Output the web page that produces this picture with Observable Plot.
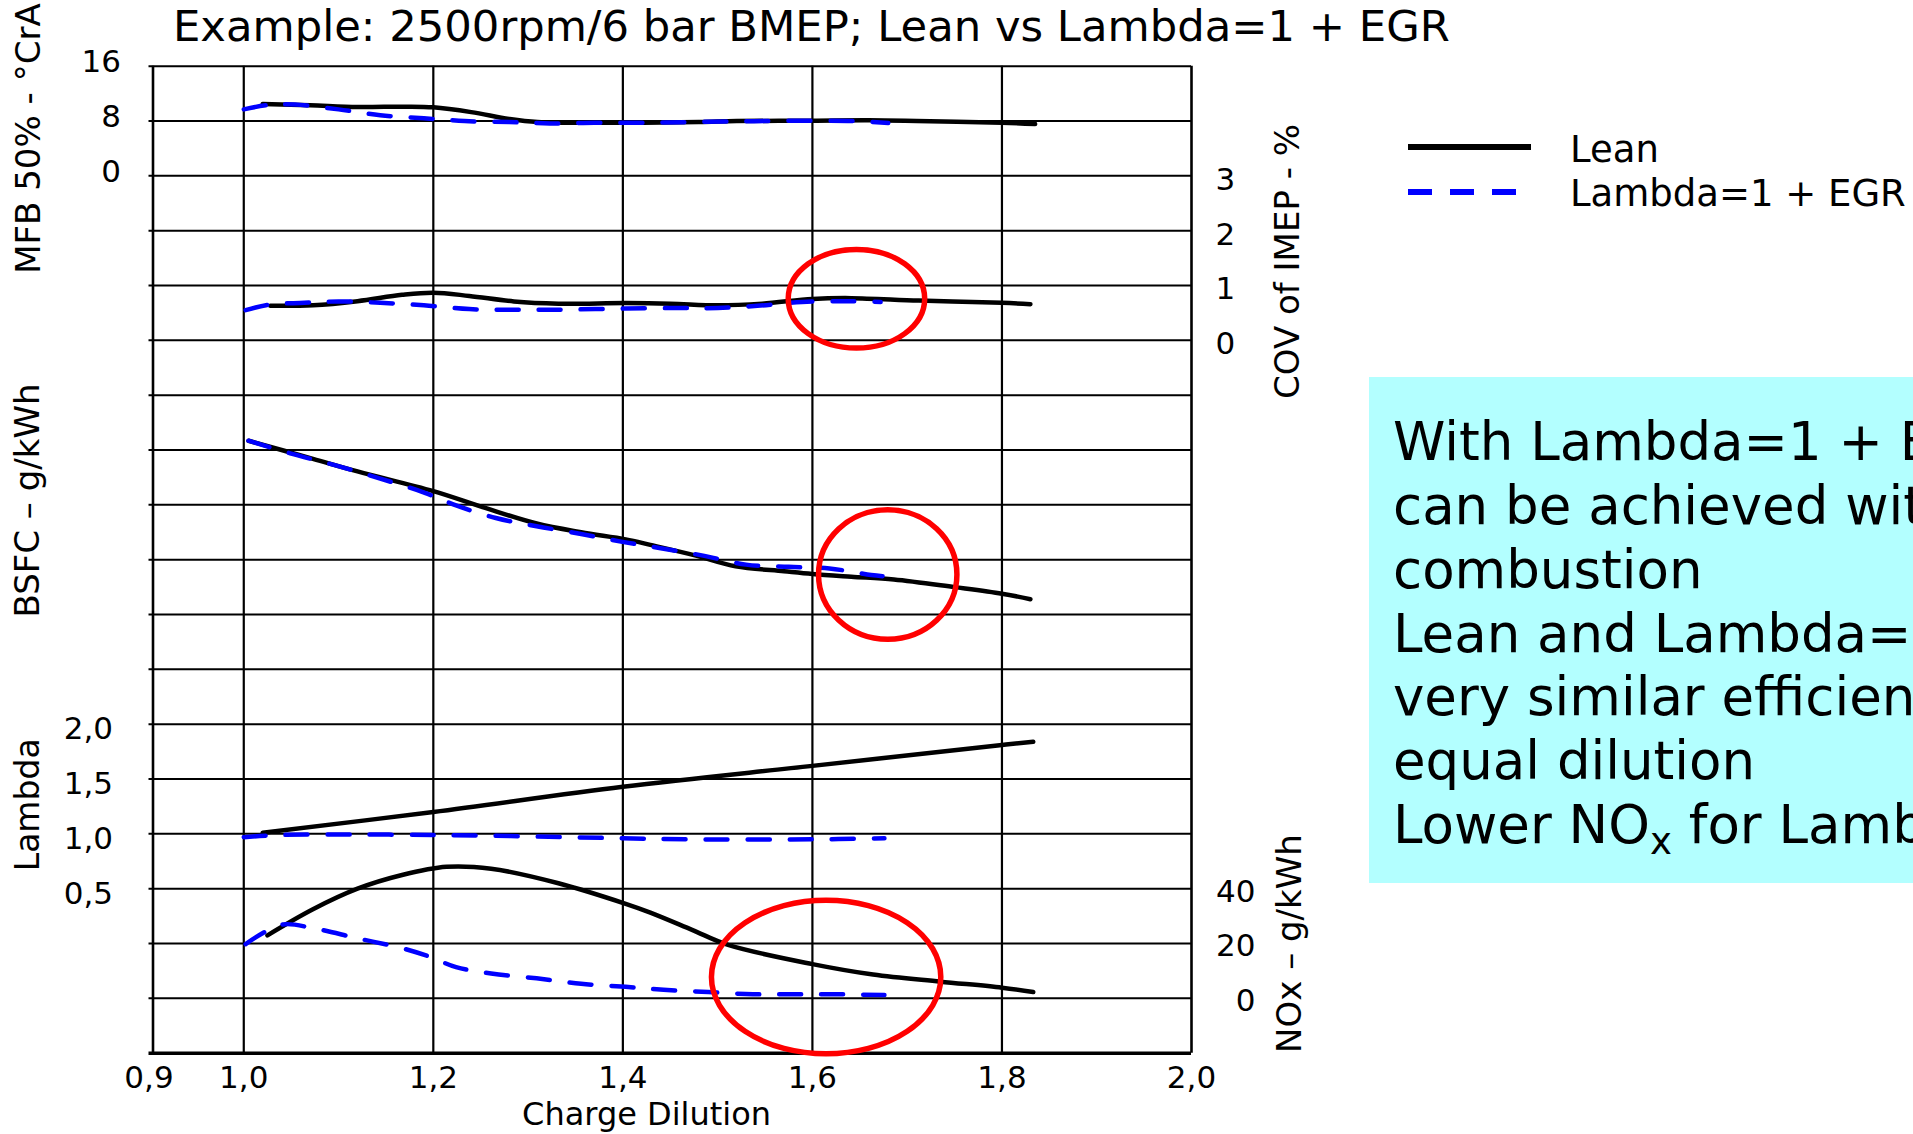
<!DOCTYPE html>
<html>
<head>
<meta charset="utf-8">
<script src="https://cdn.jsdelivr.net/npm/d3@7"></script>
<script src="https://cdn.jsdelivr.net/npm/@observablehq/plot@0.6"></script>
<style>
  html, body { margin: 0; padding: 0; background: #fff; overflow: hidden; }
  #page { position: relative; width: 1913px; height: 1134px; overflow: hidden;
          font-family: "DejaVu Sans", Verdana, sans-serif; color: #000; }
  #chart { position: absolute; left: 0; top: 0; }
  .title { position: absolute; left: 173px; top: 5px; font-size: 43.3px; line-height: 1; white-space: nowrap; }
  .leg-text { position: absolute; left: 1570px; font-size: 37px; line-height: 1; white-space: nowrap; }
  .leg-solid { position: absolute; left: 1408px; top: 144px; width: 123px; height: 6px; background: #000; }
  .leg-dash { position: absolute; left: 1408px; top: 189px; width: 110px; height: 6px;
              background: repeating-linear-gradient(to right, #0000ff 0 24px, transparent 24px 42px); }
  .note { position: absolute; left: 1369px; top: 377px; width: 600px; height: 506px; background: #b3ffff; }
  .note .lines { position: absolute; left: 24px; top: 33px; font-size: 53px; line-height: 63.85px; white-space: nowrap; }
  .note sub { font-size: 0.7em; vertical-align: -0.3em; line-height: 0; }
</style>
</head>
<body>
<div id="page">
  <div id="chart"></div>
  <div class="title">Example: 2500rpm/6 bar BMEP; Lean vs Lambda=1 + EGR</div>
  <div class="leg-solid"></div>
  <div class="leg-text" style="top:131px">Lean</div>
  <div class="leg-dash"></div>
  <div class="leg-text" style="top:175px">Lambda=1 + EGR</div>
  <div class="note"><div class="lines">
    <div>With Lambda=1 + EGR</div>
    <div>can be achieved with</div>
    <div>combustion</div>
    <div>Lean and Lambda=1 + EGR</div>
    <div>very similar efficiency</div>
    <div>equal dilution</div>
    <div>Lower NO<sub>x</sub> for Lambda=1 + EGR</div>
  </div></div>
</div>
<script>
// ---------------- data ----------------
const dilutionTicks = [0.9, 1.0, 1.2, 1.4, 1.6, 1.8, 2.0];
const dilutionGrid = [1.0, 1.2, 1.4, 1.6, 1.8];
const rowLines = [1, 2, 3, 4, 5, 6, 7, 8, 9, 10, 11, 12, 13, 14, 15, 16, 17, 18];

const mfbTicks = [0, 8, 16];
const covTicks = [0, 1, 2, 3];
const lambdaTicks = [0.5, 1.0, 1.5, 2.0];
const noxTicks = [0, 20, 40];

// MFB 50% (°CrA)
const mfbLean = [[1.02,10.5],[1.07,10.3],[1.12,10.05],[1.17,10.1],[1.20,10.0],[1.24,9.3],[1.28,8.3],[1.31,7.85],[1.40,7.75],[1.48,7.85],[1.52,8.0],[1.60,8.05],[1.66,8.1],[1.71,8.0],[1.80,7.75],[1.835,7.55]];
const mfbEgr  = [[1.0,9.7],[1.026,10.35],[1.054,10.4],[1.10,9.7],[1.144,8.85],[1.19,8.4],[1.233,8.0],[1.28,7.85],[1.323,7.65],[1.37,7.75],[1.42,7.75],[1.47,7.85],[1.55,8.0],[1.645,8.0],[1.68,7.7]];
// COV of IMEP (%)
const covLean = [[1.028,0.63],[1.073,0.64],[1.12,0.715],[1.167,0.83],[1.20,0.87],[1.238,0.81],[1.285,0.71],[1.332,0.67],[1.403,0.68],[1.45,0.67],[1.50,0.64],[1.547,0.67],[1.60,0.755],[1.641,0.77],[1.712,0.725],[1.80,0.685],[1.83,0.66]];
const covEgr  = [[1.002,0.55],[1.026,0.65],[1.064,0.685],[1.10,0.71],[1.144,0.685],[1.19,0.64],[1.238,0.57],[1.285,0.56],[1.332,0.56],[1.403,0.58],[1.46,0.59],[1.50,0.59],[1.542,0.63],[1.589,0.70],[1.636,0.715],[1.672,0.70]];
// BSFC (g/kWh, axis unlabelled in source)
const bsfcLean = [[1.005,281.7],[1.073,278.4],[1.12,276.1],[1.20,272.5],[1.252,269.6],[1.309,266.6],[1.356,265.0],[1.403,263.7],[1.429,262.7],[1.476,260.8],[1.519,258.8],[1.57,257.9],[1.60,257.4],[1.641,256.9],[1.686,256.4],[1.75,255.0],[1.80,253.8],[1.83,252.8]];
const bsfcEgr  = [[1.005,281.7],[1.049,279.4],[1.097,277.2],[1.144,274.8],[1.191,272.2],[1.224,269.9],[1.266,267.6],[1.309,266.1],[1.356,264.7],[1.398,263.3],[1.44,262.1],[1.486,260.7],[1.53,259.1],[1.575,258.7],[1.618,258.4],[1.662,257.2],[1.674,257.0]];
// Lambda
const lambdaLean = [[1.02,1.01],[1.20,1.20],[1.40,1.43],[1.60,1.62],[1.80,1.81],[1.833,1.84]];
const lambdaEgr  = [[1.0,0.97],[1.04,0.99],[1.20,0.99],[1.40,0.96],[1.47,0.95],[1.60,0.95],[1.676,0.96]];
// NOx (g/kWh)
const noxLean = [[1.025,23],[1.073,32.5],[1.12,40],[1.167,45],[1.214,48],[1.261,47.3],[1.332,42],[1.403,34.5],[1.429,31.3],[1.473,25],[1.511,19.5],[1.60,12.5],[1.664,8.7],[1.735,6.1],[1.80,3.9],[1.833,2.3]];
const noxEgr  = [[1.002,19.8],[1.04,26.9],[1.073,25.6],[1.12,21.9],[1.167,18.3],[1.196,15.2],[1.224,11.4],[1.261,9.1],[1.309,7.3],[1.356,5.3],[1.403,4.2],[1.443,3.1],[1.49,2.3],[1.537,1.5],[1.58,1.5],[1.624,1.5],[1.676,1.2]];

// red highlight ellipses (panel units)
const highlights = [
  {panel: "cov",  x: 1.647, y: 0.75,  rx: 0.072, ry: 0.90},
  {panel: "bsfc", x: 1.680, y: 257.2, rx: 0.073, ry: 11.8},
  {panel: "nox",  x: 1.615, y: 7.6,   rx: 0.121, ry: 28}
];

// ---------------- stacked panels on one grid ----------------
const panels = {
  mfb:    v => 16 + v / 8,
  cov:    v => 13 + v,
  bsfc:   v => 8 + (v - 250) / 10,
  lambda: v => 2 + 2 * v,
  nox:    v => 1 + v / 20
};

const rows = [];
function add(panel, series, pts) {
  for (const [x, v] of pts) rows.push({panel, series, x, u: panels[panel](v)});
}
add("mfb", "Lean", mfbLean);       add("mfb", "EGR", mfbEgr);
add("cov", "Lean", covLean);       add("cov", "EGR", covEgr);
add("bsfc", "Lean", bsfcLean);     add("bsfc", "EGR", bsfcEgr);
add("lambda", "Lean", lambdaLean); add("lambda", "EGR", lambdaEgr);
add("nox", "Lean", noxLean);       add("nox", "EGR", noxEgr);

const comma = d => d.toFixed(1).replace(".", ",");
const vTitle = {rotate: -90, textAnchor: "middle", lineAnchor: "middle", fontSize: 34};

const chart = Plot.plot({
  width: 1913,
  height: 1134,
  marginTop: 65.7,
  marginBottom: 81.3,
  marginLeft: 148.5,
  marginRight: 722,
  style: {fontFamily: "'DejaVu Sans', Verdana, sans-serif", fontSize: "31px", color: "#000", background: "transparent"},
  x: {domain: [0.9, 2.0], axis: null},
  y: {domain: [0, 18], axis: null},
  marks: [
    Plot.ruleY(rowLines, {stroke: "#000", strokeWidth: 2}),
    Plot.ruleX(dilutionGrid, {stroke: "#000", strokeWidth: 2.2}),
    Plot.ruleX([0.9], {stroke: "#000", strokeWidth: 2.6, dx: 4}),
    Plot.ruleX([2.0], {stroke: "#000", strokeWidth: 2.6}),
    Plot.ruleY([0], {stroke: "#000", strokeWidth: 3.5}),
    Plot.line(rows.filter(d => d.series === "Lean"), {x: "x", y: "u", z: "panel", stroke: "#000", strokeWidth: 4.5, curve: "catmull-rom"}),
    Plot.line(rows.filter(d => d.series === "EGR"), {x: "x", y: "u", z: "panel", stroke: "#0000ff", strokeWidth: 4.5, strokeDasharray: "22,20", curve: "catmull-rom"}),
    // tick labels
    Plot.text(dilutionTicks, {x: d => d, frameAnchor: "bottom", lineAnchor: "middle", dy: 25, text: comma}),
    Plot.text(mfbTicks, {y: panels.mfb, frameAnchor: "left", textAnchor: "end", dx: -28, dy: -4, text: d => String(d)}),
    Plot.text(lambdaTicks, {y: panels.lambda, frameAnchor: "left", textAnchor: "end", dx: -36, dy: 5, text: comma}),
    Plot.text(covTicks, {y: panels.cov, frameAnchor: "right", textAnchor: "start", dx: 24, dy: 4, text: d => String(d)}),
    Plot.text(noxTicks, {y: panels.nox, frameAnchor: "right", textAnchor: "end", dx: 64, dy: 3, text: d => String(d)}),
    // axis titles
    Plot.text(["MFB 50% - °CrA"], {y: () => 16.68, frameAnchor: "left", dx: -119.5, ...vTitle}),
    Plot.text(["BSFC – g/kWh"], {y: () => 10.08, frameAnchor: "left", dx: -120.5, ...vTitle}),
    Plot.text(["Lambda"], {y: () => 4.53, frameAnchor: "left", dx: -120.5, ...vTitle, fontSize: 33}),
    Plot.text(["COV of IMEP - %"], {y: () => 14.44, frameAnchor: "right", dx: 97, ...vTitle}),
    Plot.text(["NOx – g/kWh"], {y: () => 2.0, frameAnchor: "right", dx: 99, ...vTitle}),
    Plot.text(["Charge Dilution"], {x: () => 1.425, frameAnchor: "bottom", lineAnchor: "middle", dy: 62, fontSize: 32})
  ]
});

// red ellipses through the plot's scales
const sx = chart.scale("x"), sy = chart.scale("y");
d3.select(chart).append("g").attr("aria-label", "highlights")
  .selectAll("ellipse").data(highlights).join("ellipse")
  .attr("cx", d => sx.apply(d.x))
  .attr("cy", d => sy.apply(panels[d.panel](d.y)))
  .attr("rx", d => sx.apply(d.x + d.rx) - sx.apply(d.x))
  .attr("ry", d => sy.apply(panels[d.panel](d.y - d.ry)) - sy.apply(panels[d.panel](d.y)))
  .attr("fill", "none")
  .attr("stroke", "#ff0000")
  .attr("stroke-width", 5.5);

document.getElementById("chart").appendChild(chart);
</script>
</body>
</html>
